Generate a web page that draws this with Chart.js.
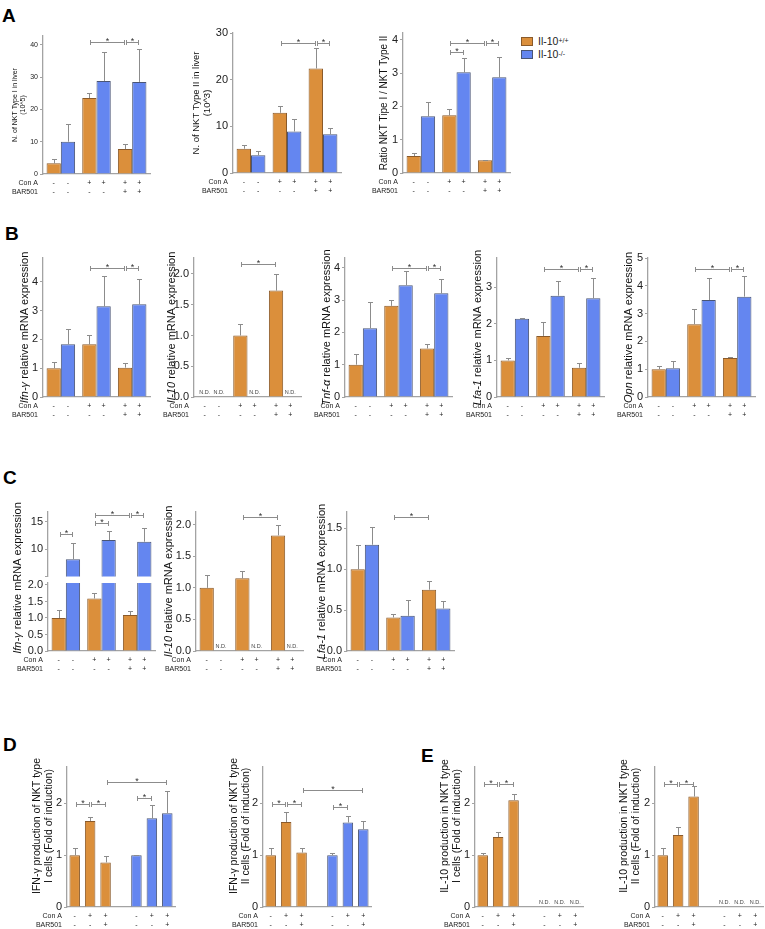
<!DOCTYPE html>
<html>
<head>
<meta charset="utf-8">
<script src="https://cdn.jsdelivr.net/npm/chart.js@4.4.1/dist/chart.umd.min.js"></script>
<style>
  body { margin: 0; background: #fff; width: 765px; height: 929px; position: relative; overflow: hidden;
         font-family: "Liberation Sans", Arial, sans-serif; }
  canvas { position: absolute; }
  .pl { position: absolute; font-weight: bold; font-size: 19px; line-height: 19px; color: #000; }
  .leg { position: absolute; font-size: 10.5px; line-height: 12px; color: #222; display: flex; align-items: center; }
  .sw { display: inline-block; width: 10px; height: 7px; border: 1px solid; margin-right: 5px; }
  sup { font-size: 7px; vertical-align: 4px; line-height: 0; }
</style>
</head>
<body>
<div class="pl" style="left:2px;top:6px">A</div>
<div class="pl" style="left:5px;top:224px">B</div>
<div class="pl" style="left:3px;top:468px">C</div>
<div class="pl" style="left:3px;top:735px">D</div>
<div class="pl" style="left:421px;top:746px">E</div>
<div class="leg" style="left:521px;top:35px"><span class="sw" style="background:#DB8F3B;border-color:#8A5A2A"></span>Il-10<sup>+/+</sup></div>
<div class="leg" style="left:521px;top:48px"><span class="sw" style="background:#6486F0;border-color:#4A5575"></span>Il-10<sup>-/-</sup></div>
<script>
// categories / treatment table
const groups = ['Ctrl', 'Con A', 'Con A + BAR501'];
const cats7 = ['1', '2', '3', '', '5', '6', '7'];
const conA6 = ['-', '-', '+', '+', '+', '+'];
const bar6 = ['-', '-', '-', '-', '+', '+'];
const conA7 = ['-', '+', '+', '', '-', '+', '+'];
const bar7 = ['-', '-', '+', '', '-', '-', '+'];

// A - NKT cells in liver (Il-10+/+ = wt, Il-10-/- = ko)
const nkt1Wt = [3.3, 23.5, 7.7], nkt1WtErr = [1.2, 1.6, 1.5];
const nkt1Ko = [10.0, 28.8, 28.5], nkt1KoErr = [5.5, 9.0, 10.2];
const nkt2Wt = [5.2, 12.9, 22.4], nkt2WtErr = [0.9, 1.4, 4.3];
const nkt2Ko = [3.8, 8.9, 8.3], nkt2KoErr = [1.0, 2.6, 1.4];
const ratioWt = [0.51, 1.73, 0.38], ratioWtErr = [0.10, 0.19, 0.02];
const ratioKo = [1.70, 3.02, 2.87], ratioKoErr = [0.42, 0.42, 0.60];

// B - liver mRNA
const ifnBWt = [1.0, 1.83, 1.02], ifnBWtErr = [0.23, 0.32, 0.15];
const ifnBKo = [1.83, 3.15, 3.22], ifnBKoErr = [0.52, 1.07, 0.87];
const il10BWt = [null, 1.0, 1.73], il10BWtErr = [0, 0.18, 0.27];
const tnfBWt = [1.0, 2.82, 1.5], tnfBWtErr = [0.33, 0.18, 0.14];
const tnfBKo = [2.13, 3.46, 3.21], tnfBKoErr = [0.8, 0.44, 0.43];
const lfaBWt = [1.0, 1.67, 0.8], lfaBWtErr = [0.07, 0.39, 0.13];
const lfaBKo = [2.14, 2.77, 2.7], lfaBKoErr = [0.02, 0.4, 0.55];
const opnBWt = [1.0, 2.62, 1.4], opnBWtErr = [0.1, 0.53, 0.05];
const opnBKo = [1.03, 3.49, 3.61], opnBKoErr = [0.25, 0.78, 0.74];

// C - NKT mRNA
const ifnCWt = [1.0, 1.59, 1.09], ifnCWtErr = [0.24, 0.16, 0.13];
const ifnCKo = [8.16, 11.67, 11.36], ifnCKoErr = [2.9, 1.63, 2.44];
const il10CWt = [1.0, 1.15, 1.83], il10CWtErr = [0.2, 0.11, 0.16];
const lfaCWt = [1.0, 0.41, 0.75], lfaCWtErr = [0.3, 0.04, 0.11];
const lfaCKo = [1.3, 0.43, 0.52], lfaCKoErr = [0.22, 0.19, 0.09];

// D / E - fold of induction
const ifnT1Wt = [1.0, 1.66, 0.86], ifnT1WtErr = [0.13, 0.08, 0.13];
const ifnT1Ko = [1.0, 1.71, 1.81], ifnT1KoErr = [0.01, 0.26, 0.43];
const ifnT2Wt = [1.0, 1.64, 1.05], ifnT2WtErr = [0.13, 0.2, 0.08];
const ifnT2Ko = [1.0, 1.63, 1.5], ifnT2KoErr = [0.04, 0.12, 0.16];
const il10T1Wt = [1.0, 1.35, 2.06], il10T1WtErr = [0.05, 0.1, 0.11];
const il10T2Wt = [1.0, 1.39, 2.13], il10T2WtErr = [0.13, 0.16, 0.2];

const FONT = '"Liberation Sans", Arial, sans-serif';
Chart.defaults.font.family = FONT;
const ORANGE = '#DB8F3B', ORANGE_EDGE = '#8A5A2A', BLUE = '#6486F0', BLUE_EDGE = '#4A5575';
const AXIS = '#a3a3a3', ERR = '#8c8c8c';
const ORDER6 = [[0, 0], [1, 0], [0, 1], [1, 1], [0, 2], [1, 2]];
const ORDER7 = [[0, 0], [0, 1], [0, 2], null, [1, 4], [1, 5], [1, 6]];

function figPlugin(o) {
  return {
    id: 'fig',
    afterDatasetsDraw(chart) {
      const ctx = chart.ctx, a = chart.chartArea, ys = chart.scales.y, xs = chart.scales.x;
      const order = o.seven ? ORDER7 : ORDER6;
      const px = order.map((p, k) => {
        const el = p && chart.getDatasetMeta(p[0]).data[p[1]];
        return el && isFinite(el.x) ? el.x : xs.getPixelForValue(k);
      });
      // error bars (clipped like the bars)
      ctx.save();
      ctx.beginPath(); ctx.rect(a.left, a.top, a.right - a.left, a.bottom - a.top); ctx.clip();
      ctx.strokeStyle = ERR; ctx.lineWidth = 1;
      order.forEach((p, k) => {
        if (!p) return;
        const v = chart.data.datasets[p[0]].data[p[1]];
        const e = o.errs[p[0]][p[1]];
        if (v == null || !e) return;
        const x = Math.round(px[k]) + 0.5;
        const y0 = ys.getPixelForValue(v), y1 = Math.round(ys.getPixelForValue(v + e)) + 0.5;
        ctx.beginPath();
        ctx.moveTo(x, y0); ctx.lineTo(x, y1);
        ctx.moveTo(x - 2.5, y1); ctx.lineTo(x + 2.5, y1);
        ctx.stroke();
      });
      ctx.restore();

      ctx.save();
      // significance brackets
      ctx.strokeStyle = ERR; ctx.fillStyle = '#333'; ctx.lineWidth = 1;
      (o.brackets || []).forEach(([i, j, v]) => {
        const x0 = Math.round(px[i] + 1) + 0.5, x1 = Math.round(px[j] - 1) + 0.5;
        const y = Math.round(ys.getPixelForValue(v)) + 0.5;
        ctx.beginPath();
        ctx.moveTo(x0, y); ctx.lineTo(x1, y);
        ctx.moveTo(x0, y - 2.5); ctx.lineTo(x0, y + 2.5);
        ctx.moveTo(x1, y - 2.5); ctx.lineTo(x1, y + 2.5);
        ctx.stroke();
        ctx.font = '9px ' + FONT; ctx.textAlign = 'center'; ctx.textBaseline = 'alphabetic';
        ctx.fillText('*', (x0 + x1) / 2, y + 1.5);
      });
      // not detected
      ctx.font = '5.5px ' + FONT; ctx.fillStyle = '#444'; ctx.textAlign = 'center'; ctx.textBaseline = 'alphabetic';
      (o.nd || []).forEach((f, k) => { if (f) ctx.fillText('N.D.', px[k], a.bottom - 3); });
      // treatment rows
      if (o.rows !== false) {
        const r1 = o.seven ? conA7 : conA6, r2 = o.seven ? bar7 : bar6;
        ctx.font = '7px ' + FONT; ctx.fillStyle = '#222'; ctx.textBaseline = 'middle';
        ctx.textAlign = 'right';
        ctx.fillText('Con A', a.left - 5, a.bottom + 9.5);
        ctx.fillText('BAR501', a.left - 5, a.bottom + 18.5);
        ctx.textAlign = 'center';
        r1.forEach((s, k) => ctx.fillText(s, px[k], a.bottom + 9.5));
        r2.forEach((s, k) => ctx.fillText(s, px[k], a.bottom + 18.5));
      }
      // y title, may mix italic gene name with plain text
      if (o.title) {
        const cy = o.titleCY != null ? o.titleCY - o.cTop : (a.top + a.bottom) / 2;
        ctx.translate(a.left - o.titleOff, cy);
        ctx.rotate(-Math.PI / 2);
        ctx.fillStyle = '#111'; ctx.textBaseline = 'middle'; ctx.textAlign = 'left';
        const n = o.title.length, lh = o.titleSize * 1.2;
        const fontOf = it => (it ? 'italic ' : '') + o.titleSize + 'px ' + FONT;
        o.title.forEach((line, i) => {
          const segs = typeof line === 'string' ? [[line, false]] : line;
          let w = 0;
          segs.forEach(([t, it]) => { ctx.font = fontOf(it); w += ctx.measureText(t).width; });
          let x = -w / 2;
          const y = lh * (i - (n - 1) / 2);
          segs.forEach(([t, it]) => { ctx.font = fontOf(it); ctx.fillText(t, x, y); x += ctx.measureText(t).width; });
        });
      }
      ctx.restore();
    }
  };
}

function makeChart(o) {
  const [l, t, r, b] = o.box;
  const padL = o.titleOff ? o.titleOff + 16 : 30, padT = o.padT ?? 14, padR = 4, padB = o.padB ?? 26;
  const cv = document.createElement('canvas');
  cv.width = r - l + padL + padR;
  cv.height = b - t + padT + padB;
  cv.style.left = (l - padL) + 'px';
  cv.style.top = (t - padT) + 'px';
  o.cTop = t - padT;
  document.body.appendChild(cv);

  const seven = !!o.seven;
  const nulls = [null, null, null], zeros = [0, 0, 0];
  const fill = (arr, front) => seven ? (front ? arr.concat([null, null, null, null]) : [null, null, null, null].concat(arr)) : arr;
  const wt = fill(o.wt || nulls, true), ko = fill(o.ko || nulls, false);
  o.errs = [fill(o.wtErr || zeros, true), fill(o.koErr || zeros, false)];
  const barOpts = {
    borderWidth: 1, grouped: !seven, clip: 0,
    categoryPercentage: seven ? 1 : 0.8, barPercentage: seven ? 0.68 : 1
  };

  new Chart(cv, {
    type: 'bar',
    data: {
      labels: seven ? cats7 : groups,
      datasets: [
        Object.assign({ label: 'Il-10+/+', data: wt, backgroundColor: ORANGE, borderColor: ORANGE_EDGE }, barOpts),
        Object.assign({ label: 'Il-10-/-', data: ko, backgroundColor: BLUE, borderColor: BLUE_EDGE }, barOpts)
      ]
    },
    options: {
      responsive: false,
      animation: false,
      layout: { padding: { left: 0, top: padT, right: padR, bottom: padB } },
      plugins: { legend: { display: false }, tooltip: { enabled: false } },
      scales: {
        x: {
          display: !o.noX,
          border: { color: AXIS, width: 1.3 },
          grid: { drawOnChartArea: false, drawTicks: false, color: AXIS },
          ticks: { display: false },
          afterFit: s => { s.height = 0; }
        },
        y: {
          min: o.yMin || 0, max: o.yMax,
          border: { color: AXIS, width: 1.3 },
          grid: { drawOnChartArea: false, tickLength: 3, color: AXIS },
          ticks: {
            stepSize: o.step, includeBounds: false, color: '#222', padding: 2,
            font: { size: o.tickSize || 11 },
            callback: v => (o.hide && o.hide.includes(v)) ? '' : v.toFixed(o.dec || 0)
          },
          afterFit: s => { s.width = padL; }
        }
      }
    },
    plugins: [figPlugin(o)]
  });
}

const geneTitle = g => [[[g, true], [' relative mRNA expression', false]]];

// ---- A ----
makeChart({ box: [43, 36, 150, 174], yMax: 42.7, step: 10, tickSize: 7,
  title: ['N. of NKT Type I in liver', '(10^5)'], titleSize: 7, titleOff: 24,
  wt: nkt1Wt, wtErr: nkt1WtErr, ko: nkt1Ko, koErr: nkt1KoErr,
  brackets: [[2, 4, 40.9], [4, 5, 40.9]] });
makeChart({ box: [233, 33, 341, 173], yMax: 30, step: 10,
  title: ['N. of NKT Type II in liver', '(10^3)'], titleSize: 9.5, titleOff: 31,
  wt: nkt2Wt, wtErr: nkt2WtErr, ko: nkt2Ko, koErr: nkt2KoErr,
  brackets: [[2, 4, 27.8], [4, 5, 27.8]] });
makeChart({ box: [403, 33, 510, 173], yMax: 4.2, step: 1,
  title: ['Ratio NKT Tipe I / NKT Type II'], titleSize: 10, titleOff: 19,
  wt: ratioWt, wtErr: ratioWtErr, ko: ratioKo, koErr: ratioKoErr,
  brackets: [[2, 3, 3.62], [2, 4, 3.89], [4, 5, 3.89]] });

// ---- B ----
makeChart({ box: [43, 258, 150, 397], yMax: 4.83, step: 1,
  title: geneTitle('Ifn-γ'), titleSize: 11, titleOff: 18,
  wt: ifnBWt, wtErr: ifnBWtErr, ko: ifnBKo, koErr: ifnBKoErr,
  brackets: [[2, 4, 4.47], [4, 5, 4.47]] });
makeChart({ box: [194, 258, 301, 397], yMax: 2.26, step: 0.5, dec: 1,
  title: geneTitle('Il-10'), titleSize: 11, titleOff: 22,
  wt: il10BWt, wtErr: il10BWtErr, nd: [1, 1, 0, 1, 0, 1],
  brackets: [[2, 4, 2.16]] });
makeChart({ box: [345, 258, 452, 397], yMax: 4.3, step: 1,
  title: geneTitle('Tnf-α'), titleSize: 11, titleOff: 18,
  wt: tnfBWt, wtErr: tnfBWtErr, ko: tnfBKo, koErr: tnfBKoErr,
  brackets: [[2, 4, 3.98], [4, 5, 3.98]] });
makeChart({ box: [497, 258, 604, 397], yMax: 3.8, step: 1,
  title: geneTitle('Lfa-1'), titleSize: 11, titleOff: 19,
  wt: lfaBWt, wtErr: lfaBWtErr, ko: lfaBKo, koErr: lfaBKoErr,
  brackets: [[2, 4, 3.51], [4, 5, 3.51]] });
makeChart({ box: [648, 258, 755, 397], yMax: 5, step: 1,
  title: geneTitle('Opn'), titleSize: 11, titleOff: 19,
  wt: opnBWt, wtErr: opnBWtErr, ko: opnBKo, koErr: opnBKoErr,
  brackets: [[2, 4, 4.62], [4, 5, 4.62]] });

// ---- C ----  (Ifn-γ with a broken y axis: lower and upper segment)
makeChart({ box: [48, 583, 155, 651], yMax: 2.06, step: 0.5, dec: 1, padT: 83,
  title: geneTitle('Ifn-γ'), titleSize: 11, titleOff: 30, titleCY: 578,
  wt: ifnCWt, wtErr: ifnCWtErr, ko: ifnCKo, koErr: ifnCKoErr });
makeChart({ box: [48, 512, 155, 577], yMin: 5, yMax: 16.8, step: 5, hide: [5],
  noX: true, rows: false, padB: 8, padT: 14,
  wt: ifnCWt, wtErr: ifnCWtErr, ko: ifnCKo, koErr: ifnCKoErr,
  brackets: [[0, 1, 12.7], [2, 3, 14.7], [2, 4, 16.2], [4, 5, 16.2]] });
makeChart({ box: [196, 512, 303, 651], yMax: 2.2, step: 0.5, dec: 1,
  title: geneTitle('Il-10'), titleSize: 11, titleOff: 27,
  wt: il10CWt, wtErr: il10CWtErr, nd: [0, 1, 0, 1, 0, 1],
  brackets: [[2, 4, 2.12]] });
makeChart({ box: [347, 512, 454, 651], yMax: 1.7, step: 0.5, dec: 1,
  title: geneTitle('Lfa-1'), titleSize: 11, titleOff: 25,
  wt: lfaCWt, wtErr: lfaCWtErr, ko: lfaCKo, koErr: lfaCKoErr,
  brackets: [[2, 4, 1.64]] });

// ---- D ----
makeChart({ box: [67, 767, 175, 907], seven: true, yMax: 2.7, step: 1,
  title: ['IFN-γ production of NKT type', 'I cells (Fold of induction)'], titleSize: 10.5, titleOff: 24, titleCY: 826,
  wt: ifnT1Wt, wtErr: ifnT1WtErr, ko: ifnT1Ko, koErr: ifnT1KoErr,
  brackets: [[0, 1, 1.99], [1, 2, 1.99], [2, 6, 2.41], [4, 5, 2.1]] });
makeChart({ box: [263, 767, 371, 907], seven: true, yMax: 2.7, step: 1,
  title: ['IFN-γ production of NKT type', 'II cells (Fold of induction)'], titleSize: 10.5, titleOff: 23, titleCY: 826,
  wt: ifnT2Wt, wtErr: ifnT2WtErr, ko: ifnT2Ko, koErr: ifnT2KoErr,
  brackets: [[0, 1, 1.99], [1, 2, 1.99], [2, 6, 2.26], [4, 5, 1.92]] });

// ---- E ----
makeChart({ box: [475, 767, 583, 907], seven: true, yMax: 2.7, step: 1,
  title: ['IL-10 production in NKT type', 'I cells (Fold of induction)'], titleSize: 10.5, titleOff: 24, titleCY: 826,
  wt: il10T1Wt, wtErr: il10T1WtErr, nd: [0, 0, 0, 0, 1, 1, 1],
  brackets: [[0, 1, 2.37], [1, 2, 2.37]] });
makeChart({ box: [655, 767, 763, 907], seven: true, yMax: 2.7, step: 1,
  title: ['IL-10 production in NKT type', 'II cells (Fold of induction)'], titleSize: 10.5, titleOff: 25, titleCY: 826,
  wt: il10T2Wt, wtErr: il10T2WtErr, nd: [0, 0, 0, 0, 1, 1, 1],
  brackets: [[0, 1, 2.37], [1, 2, 2.37]] });
</script>
</body>
</html>
